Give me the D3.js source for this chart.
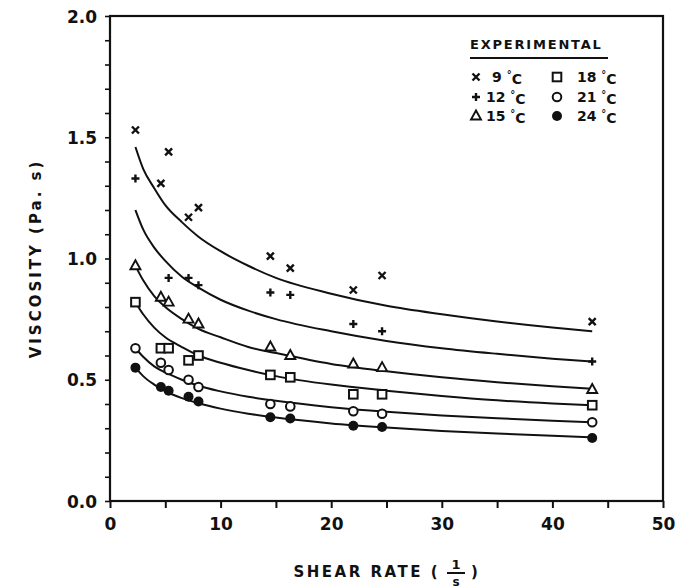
<!DOCTYPE html>
<html>
<head>
<meta charset="utf-8">
<script src="https://cdn.jsdelivr.net/npm/d3@7"></script>
<style>
  body { margin: 0; background: #fff; }
  text { font-family: "DejaVu Sans", sans-serif; font-weight: bold; fill: #111; }
</style>
</head>
<body>
<div id="chart"></div>
<script>
// measured points, shared shear rates (1/s)
var shearRate = [2.3, 4.6, 5.3, 7.1, 8.0, 14.5, 16.3, 22.0, 24.6, 43.6];
var visc9  = [1.53, 1.31, 1.44, 1.17, 1.21, 1.01, 0.96, 0.87, 0.93, 0.74];
var visc12 = [1.33, null, 0.92, 0.92, 0.89, 0.86, 0.85, 0.73, 0.70, 0.575];
var visc15 = [0.97, 0.84, 0.82, 0.75, 0.73, 0.635, 0.60, 0.565, 0.55, 0.46];
var visc18 = [0.82, 0.63, 0.63, 0.58, 0.60, 0.52, 0.51, 0.44, 0.44, 0.395];
var visc21 = [0.63, 0.57, 0.54, 0.50, 0.47, 0.40, 0.39, 0.37, 0.36, 0.325];
var visc24 = [0.55, 0.47, 0.455, 0.43, 0.41, 0.345, 0.34, 0.31, 0.305, 0.26];

// fitted curves
var curveRate = [2.3, 3, 4, 5, 6.5, 8, 10, 12.5, 15, 20, 25, 30, 35, 40, 43.6];
var fit9  = [1.46, 1.37, 1.29, 1.22, 1.15, 1.09, 1.03, 0.97, 0.92, 0.855, 0.805, 0.77, 0.74, 0.715, 0.70];
var fit12 = [1.20, 1.12, 1.045, 0.99, 0.925, 0.88, 0.83, 0.785, 0.75, 0.70, 0.66, 0.63, 0.607, 0.587, 0.575];
var fit15 = [0.97, 0.91, 0.845, 0.80, 0.75, 0.71, 0.675, 0.635, 0.61, 0.565, 0.535, 0.51, 0.49, 0.473, 0.463];
var fit18 = [0.82, 0.77, 0.715, 0.675, 0.635, 0.60, 0.57, 0.54, 0.515, 0.48, 0.455, 0.433, 0.415, 0.402, 0.395];
var fit21 = [0.63, 0.595, 0.555, 0.53, 0.50, 0.475, 0.452, 0.43, 0.413, 0.387, 0.368, 0.353, 0.341, 0.331, 0.325];
var fit24 = [0.55, 0.515, 0.48, 0.453, 0.424, 0.403, 0.381, 0.36, 0.344, 0.32, 0.303, 0.289, 0.278, 0.269, 0.263];

var temps = ["9", "12", "15", "18", "21", "24"];
var markerKinds = ["times", "plus", "triangle", "square", "circle", "dot"];
var measured = [visc9, visc12, visc15, visc18, visc21, visc24];
var fitted = [fit9, fit12, fit15, fit18, fit21, fit24];

var xTicks = [0, 5, 10, 15, 20, 25, 30, 35, 40, 45, 50];
var yTicks = d3.range(0, 21).map(function(i) { return i / 10; });

var W = 681, H = 588;
var svg = d3.select('#chart').append('svg')
    .attr('width', W)
    .attr('height', H);

var x = d3.scaleLinear().domain([0, 50]).range([110, 663]);
var y = d3.scaleLinear().domain([0, 2]).range([501, 16]);

// axes
var xAxis = svg.append('g')
    .attr('transform', 'translate(0,' + y(0) + ')')
    .call(d3.axisBottom(x).tickValues(xTicks).tickSize(7).tickPadding(10)
      .tickFormat(function(d) { return d % 10 === 0 ? d : ''; }));
xAxis.select('.domain').remove();
xAxis.selectAll('line').attr('stroke', '#111').attr('stroke-width', 2);
xAxis.selectAll('text').style('font-size', '17px');

var yAxis = svg.append('g')
    .attr('transform', 'translate(' + x(0) + ',0)')
    .call(d3.axisLeft(y).tickValues(yTicks).tickPadding(8)
      .tickSizeInner(5).tickSizeOuter(0)
      .tickFormat(function(d) { return Math.round(d * 10) % 5 === 0 ? d3.format('.1f')(d) : ''; }));
yAxis.select('.domain').remove();
yAxis.selectAll('line').attr('stroke', '#111').attr('stroke-width', 1.6);
yAxis.selectAll('text').style('font-size', '17px').attr('dy', '0.36em');

// frame
svg.append('rect')
    .attr('x', x(0)).attr('y', y(2))
    .attr('width', x(50) - x(0)).attr('height', y(0) - y(2))
    .attr('fill', 'none').attr('stroke', '#111').attr('stroke-width', 2.2);

// axis titles
svg.append('text')
    .attr('transform', 'translate(36,' + ((y(0) + y(2)) / 2) + ') rotate(-90)')
    .attr('text-anchor', 'middle')
    .attr('dy', '0.35em')
    .style('font-size', '15px')
    .style('letter-spacing', '3px')
    .text('VISCOSITY (Pa. s)');

var xt = svg.append('g').attr('transform', 'translate(0,572)');
xt.append('text')
    .attr('x', 440).attr('y', 0).attr('dy', '0.35em')
    .attr('text-anchor', 'end')
    .style('font-size', '15px')
    .style('letter-spacing', '2.5px')
    .text('SHEAR RATE (');
xt.append('text')
    .attr('x', 456).attr('y', -3)
    .attr('text-anchor', 'middle')
    .style('font-size', '13px')
    .text('1');
xt.append('line')
    .attr('x1', 447).attr('x2', 465).attr('y1', 1).attr('y2', 1)
    .attr('stroke', '#111').attr('stroke-width', 2);
xt.append('text')
    .attr('x', 456).attr('y', 14)
    .attr('text-anchor', 'middle')
    .style('font-size', '12px')
    .text('s');
xt.append('text')
    .attr('x', 471).attr('y', 0).attr('dy', '0.35em')
    .style('font-size', '15px')
    .text(')');

// marker drawing
function drawMarker(sel, kind) {
  if (kind === 'times') {
    sel.append('path').attr('d', 'M-3.5,-3.5L3.5,3.5M-3.5,3.5L3.5,-3.5')
      .attr('stroke', '#111').attr('stroke-width', 2.4).attr('fill', 'none');
  } else if (kind === 'plus') {
    sel.append('path').attr('d', 'M-4,0L4,0M0,-4L0,4')
      .attr('stroke', '#111').attr('stroke-width', 2.4).attr('fill', 'none');
  } else if (kind === 'triangle') {
    sel.append('path').attr('d', 'M0,-5.5L5,3.5L-5,3.5Z')
      .attr('stroke', '#111').attr('stroke-width', 1.9).attr('fill', '#fff');
  } else if (kind === 'square') {
    sel.append('rect').attr('x', -4.3).attr('y', -4.3).attr('width', 8.6).attr('height', 8.6)
      .attr('stroke', '#111').attr('stroke-width', 2).attr('fill', '#fff');
  } else if (kind === 'circle') {
    sel.append('circle').attr('r', 4.3)
      .attr('stroke', '#111').attr('stroke-width', 2).attr('fill', '#fff');
  } else {
    sel.append('circle').attr('r', 5).attr('fill', '#111');
  }
}

// fitted curves
var line = d3.line()
    .x(function(d) { return x(d[0]); })
    .y(function(d) { return y(d[1]); })
    .curve(d3.curveMonotoneX);

fitted.forEach(function(vals) {
  svg.append('path')
      .datum(curveRate.map(function(r, i) { return [r, vals[i]]; }))
      .attr('d', line)
      .attr('fill', 'none')
      .attr('stroke', '#111')
      .attr('stroke-width', 2);
});

// measured points
measured.forEach(function(vals, k) {
  var pts = shearRate.map(function(r, i) { return [r, vals[i]]; })
      .filter(function(d) { return d[1] != null; });
  svg.append('g').selectAll('.pt')
      .data(pts)
    .enter().append('g')
      .attr('class', 'pt')
      .attr('transform', function(d) { return 'translate(' + x(d[0]) + ',' + y(d[1]) + ')'; })
      .each(function() { drawMarker(d3.select(this), markerKinds[k]); });
});

// legend
var legend = svg.append('g');
legend.append('text')
    .attr('x', 470).attr('y', 44).attr('dy', '0.35em')
    .style('font-size', '13px')
    .style('letter-spacing', '1.8px')
    .text('EXPERIMENTAL');
legend.append('line')
    .attr('x1', 470).attr('x2', 608).attr('y1', 58).attr('y2', 58)
    .attr('stroke', '#111').attr('stroke-width', 2);

var legendRows = [77, 97, 116];
temps.forEach(function(t, i) {
  var col = Math.floor(i / 3), row = i % 3;
  var gx = col === 0 ? 476 : 557;
  var g = legend.append('g').attr('transform', 'translate(' + gx + ',' + legendRows[row] + ')');
  drawMarker(g, markerKinds[i]);
  var tx = g.append('text')
      .attr('x', col === 0 ? (t.length === 1 ? 16 : 10) : 20)
      .attr('dy', '0.38em')
      .style('font-size', '14px');
  tx.append('tspan').text(t + ' ');
  tx.append('tspan').attr('dy', '-0.45em').style('font-size', '10px').text('°');
  tx.append('tspan').attr('dy', '0.45em').text('C');
});
</script>
</body>
</html>
